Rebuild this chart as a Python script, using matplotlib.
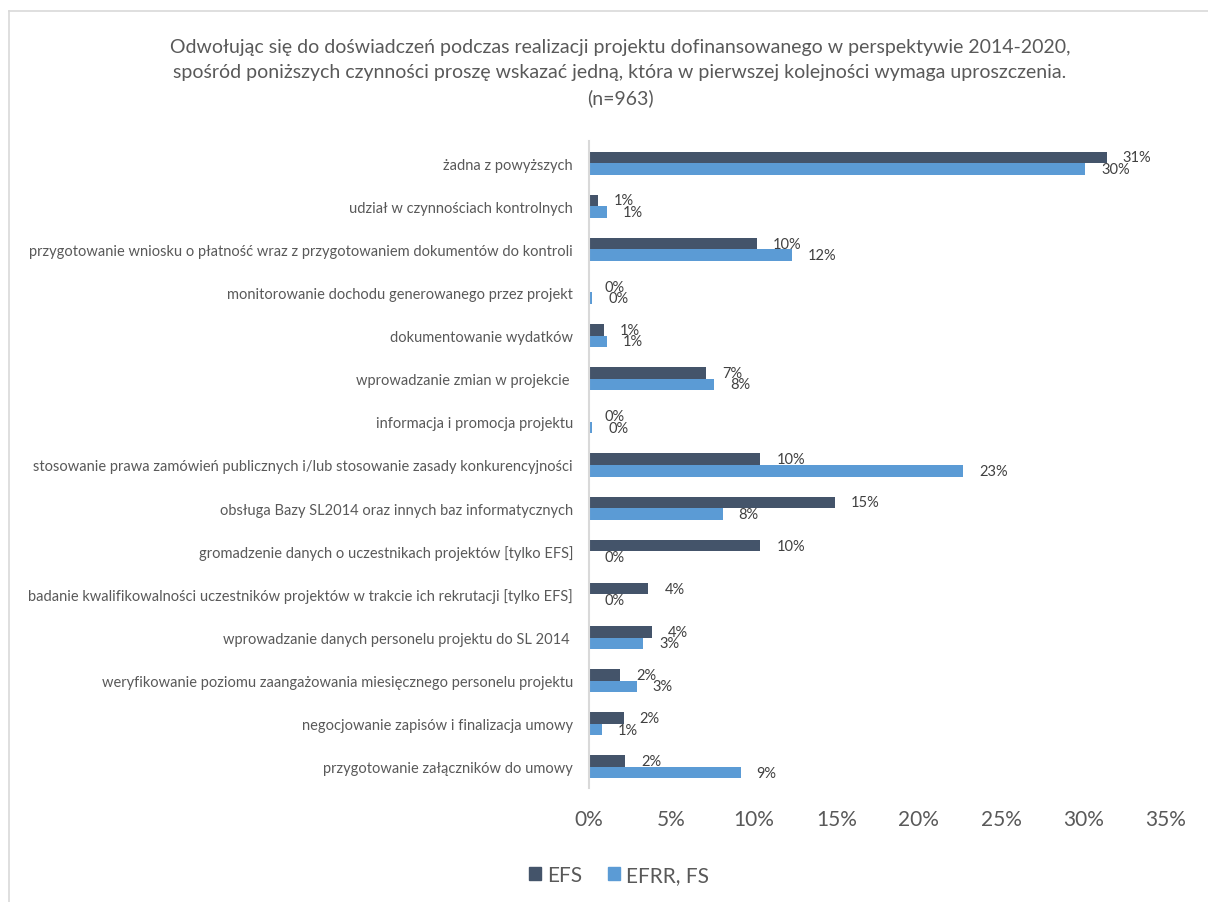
import matplotlib
matplotlib.use("Agg")
import matplotlib.pyplot as plt
import numpy as np
from matplotlib.lines import Line2D
from matplotlib.patches import Patch

plt.rcParams['font.family'] = ['Lato', 'DejaVu Sans']

categories = [
    "żadna z powyższych",
    "udział w czynnościach kontrolnych",
    "przygotowanie wniosku o płatność wraz z przygotowaniem dokumentów do kontroli",
    "monitorowanie dochodu generowanego przez projekt",
    "dokumentowanie wydatków",
    "wprowadzanie zmian w projekcie ",
    "informacja i promocja projektu",
    "stosowanie prawa zamówień publicznych i/lub stosowanie zasady konkurencyjności",
    "obsługa Bazy SL2014 oraz innych baz informatycznych",
    "gromadzenie danych o uczestnikach projektów [tylko EFS]",
    "badanie kwalifikowalności uczestników projektów w trakcie ich rekrutacji [tylko EFS]",
    "wprowadzanie danych personelu projektu do SL 2014 ",
    "weryfikowanie poziomu zaangażowania miesięcznego personelu projektu",
    "negocjowanie zapisów i finalizacja umowy",
    "przygotowanie załączników do umowy",
]
efs = [31.4, 0.55, 10.2, 0.0, 0.9, 7.1, 0.0, 10.4, 14.9, 10.4, 3.6, 3.8, 1.9, 2.1, 2.2]
efrr = [30.1, 1.1, 12.3, 0.2, 1.1, 7.6, 0.2, 22.7, 8.1, 0.0, 0.0, 3.3, 2.9, 0.8, 9.2]
series_names = ["EFS", "EFRR, FS"]
xticks = [0, 5, 10, 15, 20, 25, 30, 35]

title = ("Odwołując się do doświadczeń podczas realizacji projektu dofinansowanego w perspektywie 2014-2020,\n"
         "spośród poniższych czynności proszę wskazać jedną, która w pierwszej kolejności wymaga uproszczenia.\n"
         "(n=963)")

c_efs = "#44546A"
c_efrr = "#5B9BD5"
txt = "#595959"

W, H = 1208, 903
fig = plt.figure(figsize=(W / 100, H / 100), dpi=100)
left, right = 589 / W, 1166 / W
top, bottom = 1 - 142.5 / H, 1 - 789.5 / H
ax = fig.add_axes([left, bottom, right - left, top - bottom])

y = np.arange(len(categories))
h = 0.267
ax.barh(y - h / 2, efs, height=h, color=c_efs, label=series_names[0])
ax.barh(y + h / 2, efrr, height=h, color=c_efrr, label=series_names[1])

for yi, v in zip(y - h / 2, efs):
    ax.annotate(f"{round(v):.0f}%", (v, yi), xytext=(11.5, 0), textcoords="offset points",
                va="center", ha="left", fontsize=10.5, color="#404040")
for yi, v in zip(y + h / 2, efrr):
    ax.annotate(f"{round(v):.0f}%", (v, yi), xytext=(11.5, 0), textcoords="offset points",
                va="center", ha="left", fontsize=10.5, color="#404040")

ax.set_xlim(0, 35)
ax.set_ylim(len(categories) - 0.5, -0.5)
ax.set_yticks(y)
ax.set_yticklabels(categories, fontsize=10.5, color=txt)
ax.set_xticks(xticks)
ax.set_xticklabels([f"{t}%" for t in xticks], fontsize=15, color=txt)
ax.tick_params(axis='y', length=0, pad=11.5)
ax.tick_params(axis='x', length=0, pad=15)
for s in ["top", "right", "bottom"]:
    ax.spines[s].set_visible(False)
ax.spines["left"].set_color("#D9D9D9")
ax.spines["left"].set_linewidth(1.5)

fig.text(620 / W, 1 - 73 / H, title, ha="center", va="center", fontsize=14,
         color=txt, linespacing=1.55)

handles = [Patch(color=c_efs), Patch(color=c_efrr)]
fig.legend(handles, series_names, loc="center", bbox_to_anchor=(619 / W, 1 - 876 / H),
           ncol=2, frameon=False, fontsize=15, handlelength=0.6, handleheight=0.6,
           columnspacing=1.2, handletextpad=0.3, labelcolor=txt)

# chart border
fig.add_artist(Line2D([8.5 / W, 8.5 / W], [0, 1 - 11.5 / H], transform=fig.transFigure,
                      color="#D9D9D9", lw=1.2))
fig.add_artist(Line2D([8.5 / W, 1], [1 - 11.5 / H, 1 - 11.5 / H], transform=fig.transFigure,
                      color="#D9D9D9", lw=1.2))

fig.savefig("out.png", dpi=100, facecolor="white")
